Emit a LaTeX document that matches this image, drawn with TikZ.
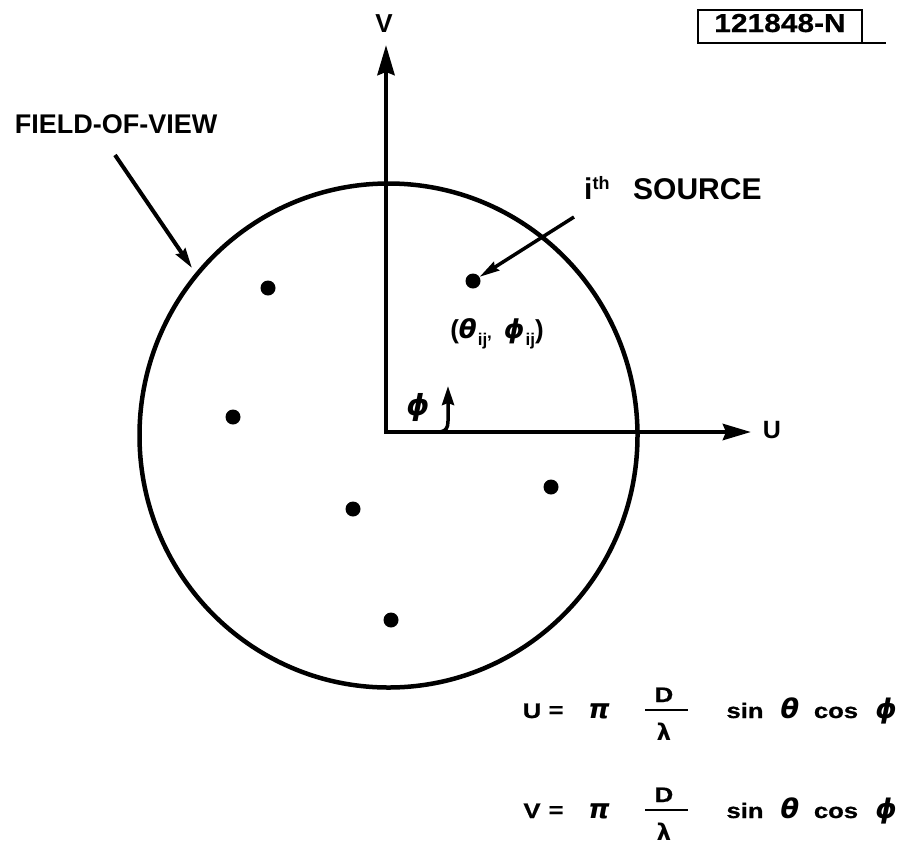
\documentclass[tikz,border=0pt]{standalone}
\usepackage{fontspec}
\setmainfont{Liberation Sans}
\newfontfamily\wide[FakeStretch=1.22,FakeBold=0.8]{Liberation Sans}
\newfontfamily\tagf[FakeStretch=1.15,FakeBold=0.6]{Liberation Sans}
\newfontfamily\grk{DejaVu Sans}
\usetikzlibrary{arrows.meta}
\tikzset{
  dot/.style={circle, fill=black, inner sep=0pt, minimum size=15pt},
  axisline/.style={line width=4.5pt, line join=miter},
  pointer/.style={line width=4pt, -{Stealth[length=20pt,width=11pt,inset=2pt]}},
  lbl/.style={inner sep=0pt, anchor=base, font=\bfseries\fontsize{27}{30}\selectfont},
  eq/.style={inner sep=0pt, anchor=base, font=\wide\bfseries\fontsize{21}{24}\selectfont},
  gk/.style={inner sep=0pt, anchor=base, font=\grk\bfseries\itshape\fontsize{27}{30}\selectfont},
}
\begin{document}
\begin{tikzpicture}[x=1pt,y=-1pt]
\useasboundingbox (0,0) rectangle (904,844);
% tag box
\draw[line width=2.5pt] (698,10) rectangle (862,43);
\draw[line width=2.5pt] (862,43) -- (886,43);
\node[inner sep=0pt, anchor=base, font=\tagf\bfseries\fontsize{26}{28}\selectfont] (tag) at (780,32) {121848-N};
% field of view
\draw[line width=4.5pt] (388.5,435.5) ellipse [x radius=249pt, y radius=252pt];
\node[lbl] (fovlbl) at (116,133) {FIELD-OF-VIEW};
\coordinate (fovtail) at (115,155);
\coordinate (fovtip) at (192,268);
\draw[pointer] (fovtail) -- (fovtip);
% axes
\coordinate (O) at (386,432);
\coordinate (vtip) at (386,45);
\coordinate (utip) at (751,432);
\draw[axisline, {Stealth[length=30pt,width=17pt,inset=3pt]}-{Stealth[length=28pt,width=16pt,inset=3pt]}] (vtip) -- (O) -- (utip);
\node[lbl, font=\bfseries\fontsize{26}{30}\selectfont] (vlbl) at (384,32) {V};
\node[lbl, font=\bfseries\fontsize{25}{30}\selectfont] (ulbl) at (772,438) {U};
% phi angle
\coordinate (phbase) at (440,432);
\coordinate (phmid) at (448,421);
\coordinate (phtip) at (448,386);
\draw[line width=3.5pt, -{Stealth[length=19pt,width=12pt,inset=2pt]}] (phbase) .. controls (446,431) and (448,428) .. (phmid) -- (phtip);
\node[gk, font=\grk\bfseries\itshape\fontsize{29}{32}\selectfont] (phlbl) at (418,415) {ϕ};
% sources
\node[dot] (s1) at (268,288) {};
\node[dot] (s2) at (233,417) {};
\node[dot] (s3) at (353,509) {};
\node[dot] (s4) at (551,487) {};
\node[dot] (s5) at (391,620) {};
\node[dot] (src) at (473,281) {};
\node[inner sep=0pt, anchor=base west, font=\bfseries\fontsize{30}{32}\selectfont] (srci) at (584,199) {i{\fontsize{18}{20}\selectfont\raisebox{10pt}{th}}};
\node[inner sep=0pt, anchor=base west, font=\bfseries\fontsize{30}{32}\selectfont] (srclbl) at (633,199) {SOURCE};
\coordinate (srctail) at (574,217);
\draw[line width=3.5pt, -{Stealth[length=20pt,width=10pt,inset=2pt]}] (srctail) -- (src);
\node[inner sep=0pt, font=\bfseries\fontsize{26}{28}\selectfont] (coord) at (497,334) {({\grk\itshape θ}\kern1pt{\fontsize{17}{18}\selectfont\raisebox{-7pt}{ij},}\hspace{12pt}{\grk\itshape ϕ}\kern1pt{\fontsize{17}{18}\selectfont\raisebox{-7pt}{ij}})};
% equations
\foreach \r/\L/\dy in {1/U/0, 2/V/100}{
  \node[eq] (L\r) at (532,718+\dy) {\L};
  \node[eq] (eq\r) at (556,717+\dy) {=};
  \node[gk] (pi\r) at (599,718+\dy) {π};
  \node[eq] (D\r) at (664,702+\dy) {D};
  \draw[line width=2.5pt] (645,710+\dy) -- (688,710+\dy);
  \node[inner sep=0pt, anchor=base, font=\grk\bfseries\fontsize{23}{26}\selectfont] (lam\r) at (664,740+\dy) {λ};
  \node[eq] (sin\r) at (745,718+\dy) {sin};
  \node[gk] (th\r) at (790,718+\dy) {θ};
  \node[eq] (cos\r) at (836,718+\dy) {cos};
  \node[gk] (ph\r) at (886,718+\dy) {ϕ};
}
\end{tikzpicture}
\end{document}
